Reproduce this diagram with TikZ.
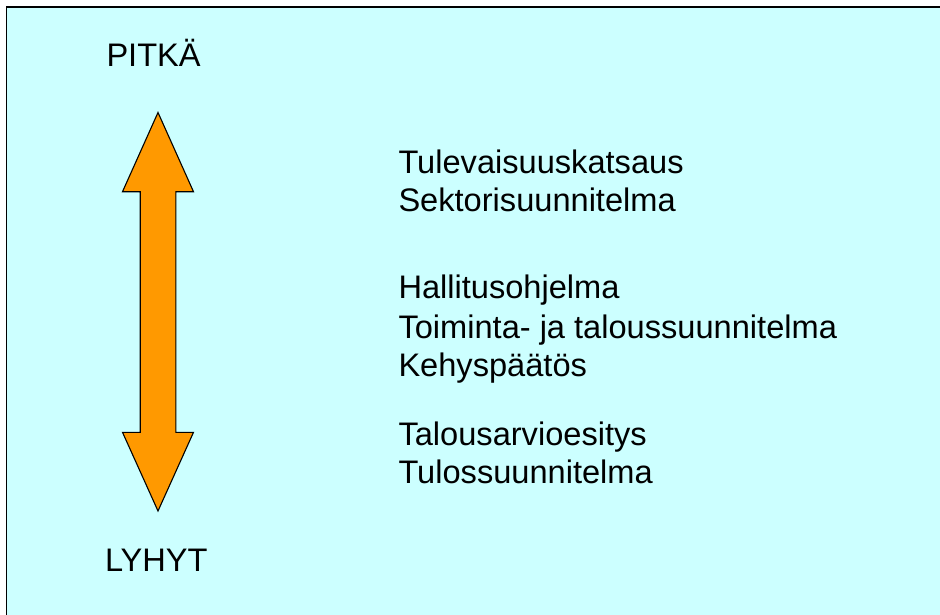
\documentclass[tikz,border=0pt]{standalone}
\usepackage{fontspec}
\setmainfont{Liberation Sans}
\definecolor{bgcyan}{HTML}{CCFFFF}
\definecolor{arroworange}{HTML}{FF9900}
\tikzset{
  lbl/.style={anchor=base west, inner sep=0pt, outer sep=0pt, font=\fontsize{32.6}{39}\selectfont, text=black},
  bigarrow/.style={fill=arroworange, draw=black, line width=1.1pt, line join=miter}
}
\begin{document}
\begin{tikzpicture}[x=1pt,y=-1pt]
\useasboundingbox (0,0) rectangle (940,615);
\fill[white] (0,0) rectangle (940,615);
\fill[bgcyan] (6.7,7) rectangle (940,615);
\coordinate (tl) at (6.7,7);
\coordinate (tr) at (940,7);
\coordinate (bl) at (6.7,615);
\draw[line width=1.4pt] (tr) -- (tl) -- (bl);
% double arrow
\draw[bigarrow] (158,112.5) -- (193.5,191.7) -- (175.8,191.7) -- (175.8,432.3) -- (193.5,432.3)
  -- (158,511) -- (122.5,432.3) -- (140.2,432.3) -- (140.2,191.7) -- (122.5,191.7) -- cycle;
% labels
\node[lbl] (pitka) at (106.5,66.7) {PITKÄ};
\node[lbl] (lyhyt) at (105,571.7) {LYHYT};
\node[lbl] (t1) at (398.5,173.3) {Tulevaisuuskatsaus};
\node[lbl] (t2) at (398.5,211.7) {Sektorisuunnitelma};
\node[lbl] (t3) at (398.5,298.3) {Hallitusohjelma};
\node[lbl] (t4) at (398.5,338.3) {Toiminta- ja taloussuunnitelma};
\node[lbl] (t5) at (398.5,376.7) {Kehyspäätös};
\node[lbl] (t6) at (398.5,445) {Talousarvioesitys};
\node[lbl] (t7) at (398.5,483.3) {Tulossuunnitelma};
\end{tikzpicture}
\end{document}
